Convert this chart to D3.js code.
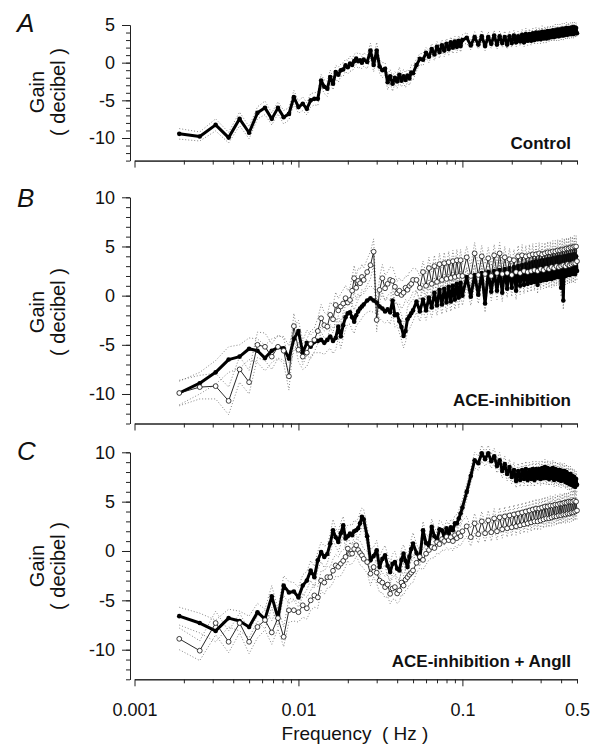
<!DOCTYPE html>
<html><head><meta charset="utf-8">
<script src="https://cdn.jsdelivr.net/npm/d3@7"></script>
<style>
body{margin:0;background:#fff;}
svg{display:block;font-family:"Liberation Sans",Arial,Helvetica,sans-serif;}
</style>
</head><body>
<svg id="chart" width="601" height="746"></svg>
<script>
// ---- DATA ----
const binWidth = 0.000625; // Hz per spectral bin
const bins = [3,4,5,6,7,8,9,10,11,12,13,14,15,16,17,18,19,20,21,22,23,24,25,26,27,28,29,30,31,32,33,34,35,36,37,38,39,40,
  42,44,46,48,50,52,54,56,58,60,62,64,66,68,70,72,74,76,78,80,
  84,88,92,96,100,104,108,112,116,120,124,128,132,136,140,144,148,152,156,160,
  170,180,190,200,210,220,230,240,250,260,270,280,290,300,310,320,330,340,350,360,370,380,390,400,
  410,420,430,440,450,460,470,480,490,500,510,520,530,540,550,560,570,580,590,600,
  610,620,630,640,650,660,670,680,690,700,710,720,730,740,750,760,770,780,790,800];

// Panel A: Control
const controlGain = [-9.45,-9.8,-8.26,-9.95,-7.46,-9.3,-6.66,-6.0,-7.46,-6.0,-7.24,-6.8,-4.58,-5.9,-5.46,-6.13,-5.0,-4.8,-4.8,-2.36,
  -3.2,-3.46,-1.9,-2.8,-1.25,-1.6,-1.0,-0.9,-0.36,-0.6,-0.13,-0.3,0.2,0.53,0.2,0.3,0.0,0.4,
  0.1,1.6,-0.3,1.6,-0.5,-1.0,-0.8,-2.6,-1.8,-2.8,-2.0,-2.5,-1.6,-2.4,-1.8,-2.3,-1.7,-2.1,-1.3,-1.4,
  -0.3,0.5,0.4,1.3,0.8,1.8,1.1,2.1,1.4,2.3,1.6,2.5,1.8,2.7,2.0,2.8,2.1,2.9,2.2,3.0,
  3.3,2.3,3.4,2.4,3.5,2.2,3.4,2.5,3.6,2.4,3.5,2.6,3.4,2.4,3.5,2.6,3.6,2.7,3.5,2.8,
  3.7,2.7,3.8,2.9,3.8,2.9,3.9,3.0,4.0,3.1,4.0,3.1,4.1,3.2,4.1,3.2,4.2,3.3,4.2,3.4,
  4.3,3.4,4.3,3.5,4.4,3.5,4.4,3.6,4.5,3.6,4.5,3.7,4.6,3.7,4.6,3.8,4.6,3.8,4.7,3.8,4.7,3.9,4.6,3.9];
const controlSE = [0.7,0.6,0.8,0.7,0.9,0.8,0.8,0.9,0.8,0.8,0.9,0.8,0.9,0.8,0.9,0.8,0.9,0.8,0.9,0.8,
  0.9,1.0,0.9,0.8,0.9,1.0,0.8,0.9,0.8,0.9,1.0,0.8,0.9,0.8,1.0,0.9,0.8,0.9,
  0.9,1.0,0.9,1.1,0.9,1.0,0.8,1.0,0.9,1.0,0.8,0.9,1.0,0.8,0.9,1.0,0.8,0.9,1.0,0.9,
  0.8,0.7,0.8,0.7,0.8,0.7,0.8,0.7,0.8,0.7,0.8,0.7,0.8,0.7,0.8,0.7,0.8,0.7,0.8,0.7,
  0.7,0.6,0.7,0.6,0.8,0.6,0.7,0.6,0.7,0.6,0.7,0.6,0.8,0.6,0.7,0.6,0.7,0.6,0.7,0.6,
  0.7,0.6,0.8,0.6,0.7,0.6,0.7,0.6,0.7,0.6,0.7,0.6,0.8,0.6,0.7,0.6,0.7,0.6,0.7,0.6,
  0.7,0.6,0.8,0.6,0.7,0.6,0.7,0.6,0.7,0.6,0.7,0.6,0.8,0.6,0.7,0.6,0.7,0.6,0.7,0.6,0.7,0.6,0.7,0.6];

// Panel B: ACE-inhibition (filled) and baseline (open)
const aceGain = [-9.9,-8.9,-7.8,-6.5,-6.2,-5.4,-5.6,-6.35,-5.6,-5.25,-5.35,-6.4,-4.4,-3.6,-5.8,-4.8,-5.2,-4.7,-4.6,-4.5,
  -4.8,-4.5,-4.15,-4.6,-4.3,-3.15,-4.15,-3.0,-2.2,-1.8,-1.7,-2.2,-2.65,-2.0,-1.6,-1.3,-1.1,-0.9,
  -0.5,-0.26,-0.5,-0.7,-1.1,-1.3,-1.6,-1.4,-1.7,-0.5,-2.0,-1.9,-2.6,-3.2,-4.1,-3.6,-2.4,-2.1,-1.8,-1.5,
  -0.6,-1.6,-0.4,-1.5,-0.2,-1.2,0.3,-1.0,0.6,-0.9,0.7,-0.7,0.9,-0.6,1.0,-0.4,1.2,-0.2,1.3,0.0,
  1.9,-0.1,2.1,0.1,2.3,-0.8,2.4,0.4,2.5,0.5,2.6,0.3,2.7,0.7,2.8,0.8,2.9,0.5,3.0,1.0,
  3.1,1.1,3.2,1.2,3.3,1.3,3.4,1.4,3.5,1.1,3.5,1.5,3.6,1.6,3.6,1.6,3.7,1.7,3.7,1.7,
  3.8,1.8,3.8,1.9,3.9,1.9,3.9,0.8,3.9,-0.5,4.0,2.0,4.0,2.1,4.1,2.1,4.1,2.2,4.1,2.2,4.2,2.2,4.0,2.5];
const aceSE = [1.2,1.1,1.2,1.3,1.2,1.1,1.2,1.3,1.2,1.1,1.2,1.3,1.2,1.1,1.2,1.3,1.2,1.1,1.2,1.3,
  1.2,1.1,1.2,1.3,1.2,1.1,1.2,1.3,1.2,1.1,1.2,1.3,1.2,1.1,1.2,1.3,1.2,1.1,
  1.2,1.3,1.2,1.1,1.2,1.3,1.2,1.1,1.2,1.3,1.2,1.1,1.2,1.3,1.2,1.1,1.2,1.3,1.2,1.1,
  1.1,1.0,1.1,1.0,1.1,1.0,1.1,1.0,1.1,1.0,1.1,1.0,1.1,1.0,1.1,1.0,1.1,1.0,1.1,1.0,
  1.0,0.9,1.0,0.9,1.0,0.9,1.0,0.9,1.0,0.9,1.0,0.9,1.0,0.9,1.0,0.9,1.0,0.9,1.0,0.9,
  1.0,0.9,1.0,0.9,1.0,0.9,1.0,0.9,1.0,0.9,1.0,0.9,1.0,0.9,1.0,0.9,1.0,0.9,1.0,0.9,
  1.0,0.9,1.0,0.9,1.0,0.9,1.0,0.9,1.0,0.9,1.0,0.9,1.0,0.9,1.0,0.9,1.0,0.9,1.0,0.9,1.0,0.9,1.0,0.9];
const aceBaseGain = [-9.9,-9.3,-9.2,-10.7,-7.5,-8.8,-5.0,-5.2,-6.2,-5.2,-5.6,-8.2,-3.1,-5.5,-6.2,-5.8,-4.9,-4.5,-3.6,-2.3,
  -3.0,-3.15,-1.95,-2.4,-0.95,-1.5,-1.1,-0.8,-0.26,-0.7,-0.44,0.5,1.77,0.8,1.5,1.26,1.9,1.6,
  2.4,3.1,4.47,-2.47,0.58,1.77,0.75,1.2,1.6,1.5,0.9,0.24,0.5,0.07,0.3,0.8,0.6,1.0,1.2,1.6,
  1.6,0.8,2.4,1.0,2.8,1.2,3.0,1.4,3.2,1.6,3.3,1.7,3.4,1.8,3.5,1.9,3.6,2.0,3.6,2.0,
  3.9,2.0,4.3,2.1,4.0,2.2,3.8,2.0,4.1,2.3,4.3,2.2,3.9,2.3,3.7,2.1,3.6,2.4,4.0,2.3,
  4.1,2.5,4.0,2.4,4.1,2.5,4.2,2.6,4.2,2.5,4.3,2.7,4.2,2.6,4.3,2.8,4.4,2.7,4.4,2.9,
  4.5,2.8,4.5,3.0,4.6,2.9,4.6,3.0,4.7,3.1,4.7,3.0,4.8,3.2,4.8,3.1,4.9,3.2,4.9,3.3,5.0,3.3,5.0,3.5];
const aceBaseSE = [1.3,1.2,1.3,1.4,1.3,1.2,1.3,1.4,1.3,1.2,1.3,1.4,1.3,1.2,1.3,1.4,1.3,1.2,1.3,1.4,
  1.3,1.2,1.3,1.4,1.3,1.2,1.3,1.4,1.3,1.2,1.3,1.4,1.3,1.2,1.3,1.4,1.3,1.2,
  1.3,1.4,1.3,1.2,1.3,1.4,1.3,1.2,1.3,1.4,1.3,1.2,1.3,1.4,1.3,1.2,1.3,1.4,1.3,1.2,
  1.1,1.2,1.1,1.2,1.1,1.2,1.1,1.2,1.1,1.2,1.1,1.2,1.1,1.2,1.1,1.2,1.1,1.2,1.1,1.2,
  1.1,1.0,1.1,1.0,1.1,1.0,1.1,1.0,1.1,1.0,1.1,1.0,1.1,1.0,1.1,1.0,1.1,1.0,1.1,1.0,
  1.1,1.0,1.1,1.0,1.1,1.0,1.1,1.0,1.1,1.0,1.1,1.0,1.1,1.0,1.1,1.0,1.1,1.0,1.1,1.0,
  1.1,1.0,1.1,1.0,1.1,1.0,1.1,1.0,1.1,1.0,1.1,1.0,1.1,1.0,1.1,1.0,1.1,1.0,1.1,1.0,1.1,1.0,1.1,1.0];

// Panel C: ACE-inhibition + AngII (filled) and baseline (open)
const angGain = [-6.6,-7.3,-8.1,-6.8,-7.1,-7.7,-6.2,-6.9,-4.6,-6.8,-3.5,-4.2,-4.1,-4.7,-3.5,-3.0,-1.97,-2.65,-0.95,-0.1,
  -0.6,-0.3,0.75,2.1,1.4,0.92,1.8,2.6,1.26,1.5,1.77,1.6,2.0,2.1,2.3,2.8,3.46,3.2,
  1.5,-0.95,-0.5,0.07,-1.63,-0.8,-0.44,-1.5,-2.14,-1.3,-1.12,-1.8,-1.97,-0.9,-0.27,-1.0,-1.63,-0.6,0.2,0.75,
  -0.2,-0.77,2.1,0.8,0.58,2.44,1.5,1.09,2.2,2.1,1.4,2.3,1.77,2.4,2.1,2.8,2.79,3.3,3.8,4.4,
  6.0,7.6,9.2,8.9,9.9,9.3,9.9,9.1,9.6,8.6,9.2,8.1,8.8,7.8,8.5,7.5,8.2,7.1,8.1,7.2,
  8.2,7.3,8.3,7.2,8.2,7.3,8.3,7.2,8.3,7.4,8.3,7.3,8.4,7.4,8.5,7.4,8.4,7.3,8.3,7.4,
  8.4,7.2,8.3,7.3,8.2,7.2,8.2,7.1,8.1,7.2,8.1,7.0,8.0,6.9,7.8,6.8,7.8,6.7,7.6,6.6,7.5,6.5,7.3,6.7];
const angSE = [0.9,1.0,1.1,0.9,1.0,1.1,0.9,1.0,1.1,0.9,1.0,1.1,0.9,1.0,1.1,0.9,1.0,1.1,0.9,1.0,
  1.1,0.9,1.0,1.1,0.9,1.0,1.1,0.9,1.0,1.1,0.9,1.0,1.1,0.9,1.0,1.1,0.9,1.0,
  1.0,1.1,0.9,1.0,1.1,0.9,1.0,1.1,0.9,1.0,1.1,0.9,1.0,1.1,0.9,1.0,1.1,0.9,1.0,1.1,
  0.9,0.8,0.9,0.8,0.9,0.8,0.9,0.8,0.9,0.8,0.9,0.8,0.9,0.8,0.9,0.8,0.9,0.8,0.9,0.8,
  0.8,0.7,0.8,0.7,0.8,0.7,0.8,0.7,0.8,0.7,0.8,0.7,0.8,0.7,0.8,0.7,0.8,0.7,0.8,0.7,
  0.8,0.7,0.8,0.7,0.8,0.7,0.8,0.7,0.8,0.7,0.8,0.7,0.8,0.7,0.8,0.7,0.8,0.7,0.8,0.7,
  0.8,0.7,0.8,0.7,0.8,0.7,0.8,0.7,0.8,0.7,0.8,0.7,0.8,0.7,0.8,0.7,0.8,0.7,0.8,0.7,0.8,0.7,0.8,0.7];
const angBaseGain = [-8.9,-10.1,-7.3,-9.2,-7.3,-9.2,-7.7,-7.0,-8.25,-6.8,-8.7,-6.0,-6.0,-6.2,-5.5,-5.8,-5.0,-4.5,-4.7,-3.0,
  -3.2,-2.65,-2.65,-2.0,-1.46,-1.6,-1.29,-1.0,-0.6,0.24,-0.3,-0.27,0.2,0.58,0.1,-0.2,-0.44,-0.8,
  -1.12,-2.3,-1.63,-2.2,-3.0,-3.2,-3.66,-3.4,-4.34,-3.8,-3.66,-4.3,-4.0,-3.2,-3.5,-2.9,-2.65,-2.4,-2.2,-1.97,
  -1.2,-0.6,-0.9,-0.27,0.1,0.4,0.3,0.9,0.7,1.2,1.0,1.43,1.1,1.4,1.0,1.6,1.3,1.8,1.5,2.0,
  2.5,1.4,2.8,1.7,3.0,1.8,3.1,1.9,3.3,2.0,3.4,2.2,3.5,2.3,3.6,2.4,3.7,2.5,3.8,2.6,
  3.9,2.7,4.0,2.8,4.1,2.9,4.2,3.0,4.3,3.0,4.3,3.1,4.4,3.2,4.5,3.3,4.5,3.3,4.6,3.4,
  4.6,3.5,4.7,3.5,4.7,3.6,4.8,3.6,4.8,3.7,4.9,3.7,4.9,3.8,5.0,3.8,5.0,3.9,5.0,3.9,5.1,4.0,5.0,4.1];
const angBaseSE = [1.1,1.0,1.2,1.1,1.0,1.2,1.1,1.0,1.2,1.1,1.0,1.2,1.1,1.0,1.2,1.1,1.0,1.2,1.1,1.0,
  1.2,1.1,1.0,1.2,1.1,1.0,1.2,1.1,1.0,1.2,1.1,1.0,1.2,1.1,1.0,1.2,1.1,1.0,
  1.1,1.2,1.0,1.1,1.2,1.0,1.1,1.2,1.0,1.1,1.2,1.0,1.1,1.2,1.0,1.1,1.2,1.0,1.1,1.2,
  1.0,1.1,1.0,1.1,1.0,1.1,1.0,1.1,1.0,1.1,1.0,1.1,1.0,1.1,1.0,1.1,1.0,1.1,1.0,1.1,
  1.0,0.9,1.0,0.9,1.0,0.9,1.0,0.9,1.0,0.9,1.0,0.9,1.0,0.9,1.0,0.9,1.0,0.9,1.0,0.9,
  1.0,0.9,1.0,0.9,1.0,0.9,1.0,0.9,1.0,0.9,1.0,0.9,1.0,0.9,1.0,0.9,1.0,0.9,1.0,0.9,
  1.0,0.9,1.0,0.9,1.0,0.9,1.0,0.9,1.0,0.9,1.0,0.9,1.0,0.9,1.0,0.9,1.0,0.9,1.0,0.9,1.0,0.9,1.0,0.9];

const xMajorTicks = [0.001, 0.01, 0.1, 0.5];
const xTickLabels = ["0.001", "0.01", "0.1", "0.5"];
const xMinorTicks = [0.002,0.003,0.004,0.005,0.006,0.007,0.008,0.009,0.02,0.03,0.04,0.05,0.06,0.07,0.08,0.09,0.2,0.3,0.4,0.5];
const panelLetters = ["A", "B", "C"];
const panelNames = ["Control", "ACE-inhibition", "ACE-inhibition + AngII"];
const yMajorA = [-10, -5, 0, 5];
const yMajorBC = [-10, -5, 0, 5, 10];

// ---- DRAWING ----
const svg = d3.select("#chart");
const FONT = '"Liberation Sans", Arial, Helvetica, sans-serif';
const x = d3.scaleLog().domain([0.001, 0.5]).range([134.5, 577]);
const freqs = bins.map(b => b * binWidth);

const panels = [
  {yDomain:[-13,5], yRange:[160.6,25], yMajor:yMajorA, letterY:32, nameY:149, titleY:92, xLabels:false,
   series:[{g:controlGain, se:controlSE, filled:true}]},
  {yDomain:[-13,10], yRange:[423.5,197.3], yMajor:yMajorBC, letterY:207, nameY:406, titleY:312, xLabels:false,
   series:[{g:aceGain, se:aceSE, filled:true},{g:aceBaseGain, se:aceBaseSE, filled:false}]},
  {yDomain:[-13,10], yRange:[679.3,452.3], yMajor:yMajorBC, letterY:460, nameY:667, titleY:566, xLabels:true,
   series:[{g:angGain, se:angSE, filled:true},{g:angBaseGain, se:angBaseSE, filled:false}]}
];

panels.forEach((p, i) => {
  const y = d3.scaleLinear().domain(p.yDomain).range(p.yRange);
  const g = svg.append("g");
  const yMinor = d3.range(p.yDomain[0], p.yDomain[1] + 1);

  // y axis
  g.append("g").attr("transform", "translate(130,0)")
    .call(d3.axisLeft(y).tickValues(yMinor).tickSize(4).tickFormat("").tickSizeOuter(0));
  const yb = g.append("g").attr("transform", "translate(130,0)")
    .call(d3.axisLeft(y).tickValues(p.yMajor).tickSize(8).tickPadding(7).tickSizeOuter(0).tickFormat(d => String(d)));
  yb.selectAll("text").attr("font-size", 18).attr("font-family", FONT).attr("fill", "#111");

  // x axis
  const xBase = y(p.yDomain[0]);
  g.append("g").attr("transform", `translate(0,${xBase})`)
    .call(d3.axisBottom(x).tickValues(xMinorTicks).tickSize(4).tickFormat("").tickSizeOuter(0));
  const xb = g.append("g").attr("transform", `translate(0,${xBase})`)
    .call(d3.axisBottom(x).tickValues(xMajorTicks.slice(0, 3)).tickSize(7).tickPadding(17).tickSizeOuter(0)
      .tickFormat((d, j) => p.xLabels ? xTickLabels[j] : ""));
  if (p.xLabels) {
    g.append("g").attr("transform", `translate(0,${xBase})`)
      .call(d3.axisBottom(x).tickValues([0.5]).tickSize(4).tickPadding(20).tickSizeOuter(0).tickFormat(() => xTickLabels[3]))
      .call(s => s.select(".domain").remove())
      .selectAll("text").attr("font-size", 18).attr("font-family", FONT).attr("fill", "#111");
  }
  xb.selectAll("text").attr("font-size", 18).attr("font-family", FONT).attr("fill", "#111");
  g.selectAll(".domain, .tick line").attr("stroke", "#222").attr("stroke-width", 1);

  // data
  const plot = g.append("g");
  const mk = (arr, fn) => d3.range(Math.min(freqs.length, arr.length)).map(k => ({f: freqs[k], v: fn(k)}));
  const line = d3.line().x(d => x(d.f)).y(d => y(d.v));

  // SE dotted bounds
  p.series.forEach(s => {
    [1, -1].forEach(sign => {
      plot.append("path").datum(mk(s.g, k => s.g[k] + sign * s.se[k]))
        .attr("d", line).attr("fill", "none").attr("stroke", "#666")
        .attr("stroke-width", 0.8).attr("stroke-dasharray", "1 2");
    });
  });
  // mean lines: filled series, then open series on top
  p.series.forEach(s => {
    const pts = mk(s.g, k => s.g[k]);
    if (s.filled) {
      plot.append("path").datum(pts).attr("d", line).attr("fill", "none")
        .attr("stroke", "#000").attr("stroke-width", 3).attr("stroke-linejoin", "round");
      plot.append("g").selectAll("circle").data(pts).join("circle")
        .attr("cx", d => x(d.f)).attr("cy", d => y(d.v)).attr("r", 2.3).attr("fill", "#000");
    }
  });
  p.series.forEach(s => {
    const pts = mk(s.g, k => s.g[k]);
    if (!s.filled) {
      plot.append("path").datum(pts).attr("d", line).attr("fill", "none")
        .attr("stroke", "#111").attr("stroke-width", 0.9);
      plot.append("g").selectAll("circle").data(pts).join("circle")
        .attr("cx", d => x(d.f)).attr("cy", d => y(d.v)).attr("r", 2.4)
        .attr("fill", "#fff").attr("stroke", "#111").attr("stroke-width", 0.8);
    }
  });

  // labels
  g.append("text").attr("x", 17).attr("y", p.letterY).text(panelLetters[i])
    .attr("font-size", 26).attr("font-style", "italic").attr("font-family", FONT).attr("fill", "#111");
  g.append("text").attr("x", 571).attr("y", p.nameY).attr("text-anchor", "end").text(panelNames[i])
    .attr("font-size", 17).attr("font-weight", "bold").attr("font-family", FONT).attr("fill", "#111");
  g.append("text").attr("transform", `translate(44,${p.titleY}) rotate(-90)`).attr("text-anchor", "middle")
    .text("Gain").attr("font-size", 20).attr("font-family", FONT).attr("fill", "#111");
  g.append("text").attr("transform", `translate(65,${p.titleY}) rotate(-90)`).attr("text-anchor", "middle")
    .style("white-space", "pre")
    .text("( decibel )").attr("font-size", 20).attr("font-family", FONT).attr("fill", "#111");
});

svg.append("text").attr("x", 355).attr("y", 740).attr("text-anchor", "middle")
  .style("white-space", "pre").text("Frequency  ( Hz )")
  .attr("font-size", 19).attr("font-family", FONT).attr("fill", "#111");
</script>
</body></html>
